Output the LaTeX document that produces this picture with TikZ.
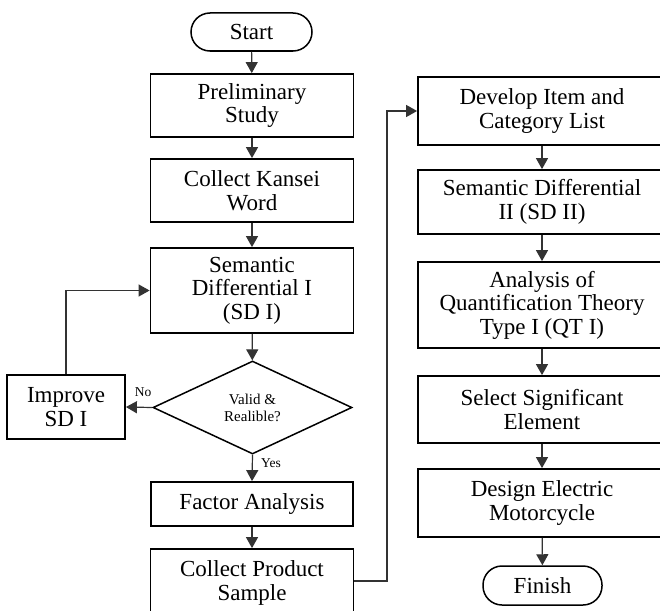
\documentclass[tikz,border=0pt]{standalone}
\usepackage{fontspec}
\setmainfont{Liberation Serif}
\usetikzlibrary{shapes.geometric,arrows.meta}
\begin{document}
\begin{tikzpicture}[x=1pt,y=-1pt,
  box/.style={draw=black,line width=1.8pt,align=center,inner sep=0pt,
    font=\fontsize{23}{23.5}\selectfont},
  term/.style={box,rounded corners=19pt,line width=1.5pt},
  decis/.style={draw=black,line width=1.5pt,diamond,align=center,inner sep=0pt,
    font=\fontsize{15}{17}\selectfont},
  conn/.style={draw=black!80,line width=1.2pt,-{Triangle[width=12pt,length=11pt]}},
  lbl/.style={font=\fontsize{13.5}{15}\selectfont,inner sep=0pt}
]
\useasboundingbox (0,0) rectangle (660,610);
\clip (0,0) rectangle (660,610);
% left column
\node[term,minimum width=121pt,minimum height=38pt] (start) at (251.5,32) {Start};
\node[box,minimum width=203pt,minimum height=63pt] (prelim) at (252,105.5) {Preliminary\\Study};
\node[box,minimum width=203pt,minimum height=63pt] (kansei) at (252,190.5) {Collect Kansei\\Word};
\node[box,minimum width=203pt,minimum height=85pt] (sd1) at (252,290.5) {Semantic\\Differential I\\(SD I)};
\node[decis,minimum width=199pt,minimum height=93pt] (dec) at (252.5,407.5) {Valid \&\\Realible?};
\node[box,minimum width=118pt,minimum height=64pt] (improve) at (66,407) {Improve\\SD I};
\node[box,minimum width=202pt,minimum height=44pt] (factor) at (252,504) {Factor Analysis};
\node[box,minimum width=203pt,minimum height=68pt] (product) at (252,583) {Collect Product\\Sample};
% right column
\node[box,minimum width=248pt,minimum height=68pt] (develop) at (542,111) {Develop Item and\\Category List};
\node[box,minimum width=248pt,minimum height=64pt] (sd2) at (542,202) {Semantic Differential\\II (SD II)};
\node[box,minimum width=248pt,minimum height=86pt] (qt) at (542,305) {Analysis of\\Quantification Theory\\Type I (QT I)};
\node[box,minimum width=248pt,minimum height=67pt] (select) at (542,409.5) {Select Significant\\Element};
\node[box,minimum width=248pt,minimum height=68pt] (design) at (542,503) {Design Electric\\Motorcycle};
\node[term,minimum width=119pt,minimum height=39pt] (finish) at (542.5,585.5) {Finish};
% connectors
\draw[conn] (start) -- (prelim);
\draw[conn] (prelim) -- (kansei);
\draw[conn] (kansei) -- (sd1);
\draw[conn] (sd1) -- (dec);
\draw[conn] (dec.west) -- (improve.east);
\draw[conn] (improve.north) |- (sd1.west);
\draw[conn] (dec.south) -- (factor.north);
\draw[conn] (factor) -- (product);
\coordinate (jog) at (387,581);
\draw[conn] (product.east |- jog) -- (jog) |- (develop.west);
\draw[conn] (develop) -- (sd2);
\draw[conn] (sd2) -- (qt);
\draw[conn] (qt) -- (select);
\draw[conn] (select) -- (design);
\draw[conn] (design) -- (finish);
% labels
\node[lbl] (nolbl) at (143,392) {No};
\node[lbl] (yeslbl) at (271,463) {Yes};
\end{tikzpicture}
\end{document}
